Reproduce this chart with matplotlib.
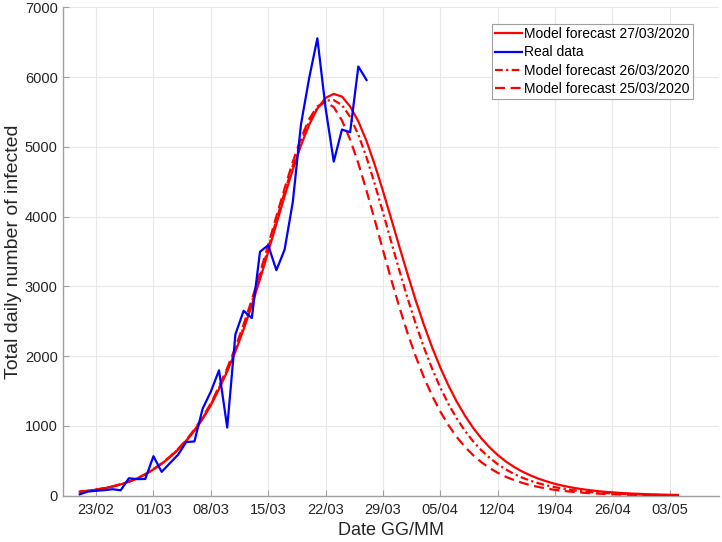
import matplotlib
matplotlib.use("Agg")
import matplotlib.pyplot as plt
import matplotlib.dates as mdates
import numpy as np

plt.rcParams["font.family"] = ["Liberation Sans", "DejaVu Sans"]

#==================================================================================================
# Data (daily new infected)
#==================================================================================================
real_start = "2020-02-21"
real_cases = [20, 59, 71, 79, 93, 78, 250, 238, 240, 566, 342, 466, 587, 769, 778, 1247, 1492,
              1797, 977, 2313, 2651, 2547, 3497, 3590, 3233, 3526, 4207, 5322, 5986, 6557, 5560,
              4789, 5249, 5210, 6153, 5959]

model_start = "2020-02-21"
forecast_27 = [57, 70, 87, 107, 132, 163, 201, 248, 306, 378, 458, 551, 660, 785, 930, 1100,
               1295, 1529, 1782, 2066, 2384, 2731, 3104, 3495, 3895, 4293, 4674, 5022, 5318, 5550,
               5702, 5760, 5721, 5580, 5366, 5084, 4746, 4370, 3975, 3573, 3179, 2800, 2450, 2128,
               1838, 1579, 1350, 1149, 975, 824, 695, 585, 491, 413, 347, 291, 244, 204, 170, 142,
               119, 99, 83, 69, 57, 48, 40, 33, 28, 23, 19, 16, 13, 11]
forecast_26 = [57, 70, 86, 106, 131, 162, 200, 247, 305, 378, 459, 553, 663, 790, 937, 1109,
               1307, 1545, 1805, 2095, 2418, 2770, 3148, 3545, 3950, 4350, 4730, 5075, 5360, 5560,
               5665, 5670, 5599, 5430, 5174, 4850, 4471, 4063, 3644, 3231, 2835, 2465, 2127, 1822,
               1551, 1314, 1109, 932, 781, 653, 545, 453, 377, 312, 259, 215, 178, 147, 122, 101,
               83, 68, 56, 47, 39, 32, 26, 22, 18, 15, 12, 10, 8, 7]
forecast_25 = [58, 71, 87, 108, 133, 164, 202, 250, 309, 382, 465, 560, 672, 800, 950, 1125,
               1325, 1565, 1830, 2125, 2455, 2810, 3195, 3595, 4005, 4405, 4785, 5125, 5400, 5580,
               5645, 5570, 5380, 5104, 4765, 4372, 3953, 3524, 3104, 2705, 2334, 1998, 1699, 1435,
               1207, 1011, 843, 702, 582, 482, 398, 329, 271, 224, 184, 152, 125, 102, 84, 69,
               57, 47, 38, 31, 26, 21, 17, 14, 12, 10, 8, 7, 5, 5]

x_limits = ["2020-02-19", "2020-05-09"]
y_ticks = [0, 1000, 2000, 3000, 4000, 5000, 6000, 7000]

#==================================================================================================
# Plot
#==================================================================================================
def days(start, n):
    return np.datetime64(start) + np.arange(n)

fig = plt.figure(figsize=(7.22, 5.42), dpi=100)
ax = fig.add_axes([0.0877, 0.0854, 0.908, 0.901])

ax.plot(days(model_start, len(forecast_27)), forecast_27, color="#ff0000", lw=1.6,
        label="Model forecast 27/03/2020", zorder=3)
ax.plot(days(real_start, len(real_cases)), real_cases, color="#0000ff", lw=1.6,
        label="Real data", zorder=4)
ax.plot(days(model_start, len(forecast_26)), forecast_26, color="#ff0000", lw=1.6,
        dashes=(3.5, 1.5, 1, 1.5), label="Model forecast 26/03/2020", zorder=3)
ax.plot(days(model_start, len(forecast_25)), forecast_25, color="#ff0000", lw=1.6,
        dashes=(4.5, 2.5), label="Model forecast 25/03/2020", zorder=3)

ax.set_xlim(np.datetime64(x_limits[0]), np.datetime64(x_limits[1]))
ax.set_ylim(0, 7000)
ax.set_yticks(y_ticks)
ax.xaxis.set_major_locator(mdates.WeekdayLocator(byweekday=mdates.SU))
ax.xaxis.set_major_formatter(mdates.DateFormatter("%d/%m"))

ax.grid(True, color="#e8e8e8", lw=0.8, zorder=0)
ax.set_axisbelow(True)
for side in ["top", "right"]:
    ax.spines[side].set_visible(False)
for side in ["left", "bottom"]:
    ax.spines[side].set_color("#a0a0a0")
    ax.spines[side].set_linewidth(1.0)
ax.tick_params(direction="in", length=4, width=0.8, color="#a0a0a0", labelsize=10.5,
               labelcolor="#262626")
ax.tick_params(axis="x", pad=5)
ax.tick_params(axis="y", pad=4)

ax.set_xlabel("Date GG/MM", fontsize=13, color="#262626", labelpad=4)
ax.set_ylabel("Total daily number of infected", fontsize=14, color="#262626", labelpad=2)

leg = ax.legend(loc="upper right", bbox_to_anchor=(0.96, 0.965), fontsize=10,
                handlelength=1.9, handletextpad=0.2, labelspacing=0.3, borderpad=0.2,
                fancybox=False, framealpha=1, borderaxespad=0)
leg.get_frame().set_edgecolor("#a0a0a0")
leg.get_frame().set_linewidth(0.8)

fig.savefig("out.png", dpi=100)
